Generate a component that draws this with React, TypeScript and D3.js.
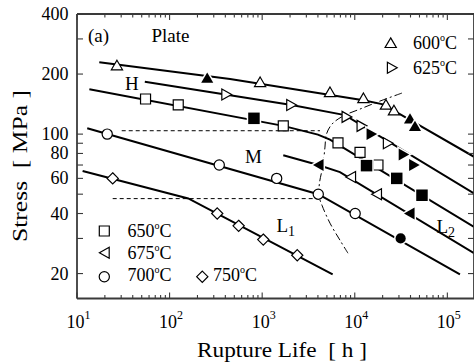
import React from 'react';
import * as d3 from 'd3';

// ---------- data (rupture life [h], stress [MPa]) ----------
const yTickValues = [20, 30, 40, 50, 60, 70, 80, 90, 100, 200, 300, 400];
const yTickLabels = [20, 40, 60, 80, 100, 200, 400];
const xMajorExps = [1, 2, 3, 4, 5];

const line600 = [[17.4, 229], [450, 189], [12400, 148], [20200, 141], [194000, 77]];
const line625 = [[54, 183], [2080, 140], [7840, 124.5], [194000, 50.4]];
const line650 = [[13.6, 168], [1690, 110], [4000, 99.4], [5400, 93.8], [194000, 34.3]];
const line675 = [[1690, 78.4], [4035, 70], [6920, 64.5], [194000, 25.3]];
const line700 = [[12.9, 107], [4035, 50], [136800, 19.8]];
const line750 = [[11.5, 65.4], [159, 47.6], [5770, 19.8]];

const m600Open = [[27, 222], [950, 183], [5400, 163], [12400, 152], [21700, 141], [26500, 132]];
const m600Filled = [[255, 192], [39500, 120], [44700, 110]];
const m625Open = [[414, 158], [2080, 140], [8240, 122], [11960, 110], [23000, 90]];
const m625Filled = [[15300, 100], [34000, 79], [44100, 70]];
const m650Open = [[55, 150], [124, 140], [1690, 110], [6590, 90.4], [11400, 81], [17800, 70]];
const m650Filled = [[815, 120], [13400, 69.5], [28400, 60], [53200, 49.4]];
const m675Open = [[9030, 61], [17200, 50]];
const m675Filled = [[4035, 70], [38800, 40]];
const m700Open = [[21.2, 100], [344, 70], [1434, 60], [4035, 50], [10100, 40]];
const m700Filled = [[31300, 30]];
const m750Open = [[24.3, 60], [327, 40], [557, 34.7], [1028, 29.6], [2393, 24.7]];

const dashUpper = [[30.4, 104], [4210, 104]];
const dashLower = [[24.3, 47.5], [4035, 47.5]];
const boundary = [
  [32330, 160.6], [18710, 146.4], [11380, 133.5], [7458, 123.1], [5673, 112.2],
  [4948, 100], [4767, 86.1], [4535, 69.9], [4157, 56.8], [4106, 48.9],
  [4424, 44], [5398, 35.8], [6922, 29.4], [8445, 25.3],
];

// ---------- layout ----------
const W = 474, H = 363;
const X0 = 77, X1 = 474, Y0 = 14, Y1 = 298.5;
const FONT = "'Liberation Serif', 'Times New Roman', serif";
const AXIS = '#3a3a3a';

type Shape = 'triUp' | 'triRight' | 'triLeft' | 'square' | 'circle' | 'diamond';

function shapePath(shape: Shape, cx: number, cy: number, filled: boolean): string {
  const s = filled ? 1.08 : 1;
  switch (shape) {
    case 'triUp': {
      const w = 5.6 * s, h = 4.8 * s;
      return `M${cx},${cy - h}L${cx + w},${cy + h}L${cx - w},${cy + h}Z`;
    }
    case 'triRight': {
      const w = 4.9 * s, h = 5.5 * s;
      return `M${cx + w},${cy}L${cx - w},${cy + h}L${cx - w},${cy - h}Z`;
    }
    case 'triLeft': {
      const w = 4.9 * s, h = 5.5 * s;
      return `M${cx - w},${cy}L${cx + w},${cy - h}L${cx + w},${cy + h}Z`;
    }
    case 'square': {
      const a = 5 * (filled ? 1.15 : 1);
      return `M${cx - a},${cy - a}H${cx + a}V${cy + a}H${cx - a}Z`;
    }
    case 'diamond': {
      const a = 5.6;
      return `M${cx},${cy - a}L${cx + a},${cy}L${cx},${cy + a}L${cx - a},${cy}Z`;
    }
    default: {
      const r = 5.1;
      return `M${cx - r},${cy}a${r},${r} 0 1,0 ${2 * r},0a${r},${r} 0 1,0 ${-2 * r},0Z`;
    }
  }
}

function Marker({ shape, cx, cy, filled }: { shape: Shape; cx: number; cy: number; filled: boolean }) {
  const d = shapePath(shape, cx, cy, filled);
  if (filled) {
    return (
      <path d={d} fill="#000" stroke="#fff" strokeWidth={3} style={{ paintOrder: 'stroke' } as any} strokeLinejoin="miter" />
    );
  }
  return <path d={d} fill="#fff" stroke="#000" strokeWidth={1.2} />;
}

function Deg({ x, y, t, size = 18 }: { x: number; y: number; t: string; size?: number }) {
  return (
    <text x={x} y={y} fontSize={size} fontFamily={FONT} fill="#000">
      {t}
      <tspan dy={-8} fontSize={10}>o</tspan>
      <tspan dy={8}>C</tspan>
    </text>
  );
}

export default function App() {
  const x = d3.scaleLog().domain([10, 194000]).range([X0, X1]);
  const y = d3.scaleLog().domain([15, 400]).range([Y1, Y0]);
  const line = d3.line<number[]>().x(d => x(d[0])).y(d => y(d[1]));
  const smooth = d3.line<number[]>().x(d => x(d[0])).y(d => y(d[1])).curve(d3.curveCatmullRom.alpha(0.5));

  const xTicks: { v: number; major: boolean }[] = [];
  for (let e = 1; e <= 5; e++) {
    for (let k = 1; k <= 9; k++) {
      const v = k * Math.pow(10, e);
      if (v <= 194000) xTicks.push({ v, major: k === 1 });
    }
  }

  const lines = [line600, line625, line650, line675, line700, line750];
  const markerSets: { data: number[][]; shape: Shape; filled: boolean }[] = [
    { data: m600Open, shape: 'triUp', filled: false },
    { data: m600Filled, shape: 'triUp', filled: true },
    { data: m625Open, shape: 'triRight', filled: false },
    { data: m625Filled, shape: 'triRight', filled: true },
    { data: m650Open, shape: 'square', filled: false },
    { data: m650Filled, shape: 'square', filled: true },
    { data: m675Open, shape: 'triLeft', filled: false },
    { data: m675Filled, shape: 'triLeft', filled: true },
    { data: m700Open, shape: 'circle', filled: false },
    { data: m700Filled, shape: 'circle', filled: true },
    { data: m750Open, shape: 'diamond', filled: false },
  ];

  return (
    <svg width={W} height={H} viewBox={`0 0 ${W} ${H}`}
      style={{ position: 'absolute', left: 0, top: 0, background: '#fff' }}>
      <rect x={0} y={0} width={W} height={H} fill="#fff" />

      {/* dashed reference lines */}
      {[dashUpper, dashLower].map((d, i) => (
        <path key={'dh' + i} d={line(d) || ''} fill="none" stroke="#000" strokeWidth={1} strokeDasharray="4,3" />
      ))}
      <path d={smooth(boundary) || ''} fill="none" stroke="#000" strokeWidth={1} strokeDasharray="8,3,2,3" />

      {/* fitted lines */}
      {lines.map((d, i) => (
        <path key={'l' + i} d={line(d) || ''} fill="none" stroke="#000" strokeWidth={2} />
      ))}

      {/* markers */}
      {markerSets.map((set, i) =>
        set.data.map((p, j) => (
          <Marker key={`m${i}-${j}`} shape={set.shape} cx={x(p[0])} cy={y(p[1])} filled={set.filled} />
        ))
      )}

      {/* axes frame */}
      <g stroke={AXIS} strokeWidth={1.8} fill="none">
        <line x1={X0} y1={Y0} x2={X1} y2={Y0} />
        <line x1={X0} y1={Y1} x2={X1} y2={Y1} />
        <line x1={X0} y1={Y0} x2={X0} y2={Y1} />
        <line x1={X1} y1={Y0} x2={X1} y2={Y1} />
      </g>
      <g stroke={AXIS} strokeWidth={1.1}>
        {xTicks.map((t, i) => {
          const px = x(t.v);
          const len = t.major ? 6 : 3.5;
          return (
            <g key={'xt' + i}>
              <line x1={px} y1={Y1} x2={px} y2={Y1 - len} />
              <line x1={px} y1={Y0} x2={px} y2={Y0 + len} />
            </g>
          );
        })}
        {yTickValues.map((v, i) => {
          const py = y(v);
          return (
            <g key={'yt' + i}>
              <line x1={X0} y1={py} x2={X0 + 6} y2={py} />
              <line x1={X1} y1={py} x2={X1 - 6} y2={py} />
            </g>
          );
        })}
      </g>

      {/* tick labels */}
      <g fontFamily={FONT} fill="#000">
        {yTickLabels.map(v => (
          <text key={'yl' + v} x={68.5} y={y(v) + 6} fontSize={18} textAnchor="end">{v}</text>
        ))}
        {xMajorExps.map(e => {
          const px = x(Math.pow(10, e));
          return (
            <text key={'xl' + e} x={px - 10.5} y={328} fontSize={18}>
              10<tspan dy={-9} fontSize={12}>{e}</tspan>
            </text>
          );
        })}
      </g>

      {/* axis titles */}
      <text x={197} y={357} fontSize={22} fontFamily={FONT} fill="#000"
        textLength={170} lengthAdjust="spacingAndGlyphs" style={{ whiteSpace: 'pre' }}>
        {'Rupture Life  [ h ]'}
      </text>
      <text transform="translate(27,166) rotate(-90)" x={0} y={0} fontSize={21} fontFamily={FONT} fill="#000"
        textAnchor="middle" textLength={152} lengthAdjust="spacingAndGlyphs" style={{ whiteSpace: 'pre' }}>
        {'Stress  [ MPa ]'}
      </text>

      {/* annotations */}
      <g fontFamily={FONT} fill="#000" fontSize={19}>
        <text x={88} y={42}>(a)</text>
        <text x={151.5} y={42}>Plate</text>
        <text x={125} y={90}>H</text>
        <text x={245} y={163}>M</text>
        <text x={276.5} y={231.5}>L<tspan dy={4} fontSize={14}>1</tspan></text>
        <text x={436.5} y={233}>L<tspan dy={4} fontSize={14}>2</tspan></text>
      </g>

      {/* legends */}
      <Marker shape="triUp" cx={390.7} cy={42.7} filled={false} />
      <Deg x={413} y={49} t="600" />
      <Marker shape="triRight" cx={392.3} cy={67.7} filled={false} />
      <Deg x={413} y={73.5} t="625" />

      <Marker shape="square" cx={104.3} cy={231} filled={false} />
      <Deg x={127.5} y={236.5} t="650" />
      <Marker shape="triLeft" cx={104.3} cy={252.7} filled={false} />
      <Deg x={127.5} y={259} t="675" />
      <Marker shape="circle" cx={104.3} cy={276.7} filled={false} />
      <Deg x={127.5} y={280.5} t="700" />
      <Marker shape="diamond" cx={202.3} cy={276.7} filled={false} />
      <Deg x={213} y={280.5} t="750" />
    </svg>
  );
}
